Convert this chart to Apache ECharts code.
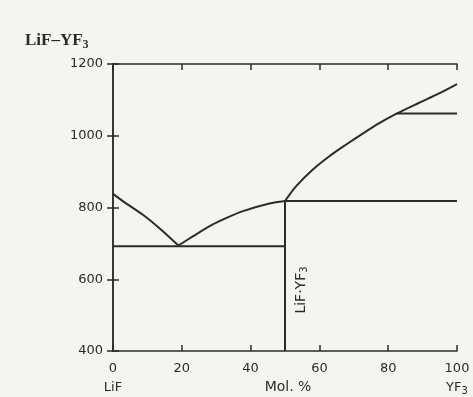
<!DOCTYPE html>
<html><head><meta charset="utf-8">
<script src="https://cdn.jsdelivr.net/npm/echarts@6/dist/echarts.min.js"></script>
<style>html,body{margin:0;padding:0;background:#f4f4f1;}#c{width:473px;height:397px;}</style>
</head><body><div id="c"></div>
<script>
// Data (Mol. % YF3, temperature °C)
const xTicks = [0, 20, 40, 60, 80, 100];
const yTicks = [400, 600, 800, 1000, 1200];
const liquidusLeft = [[0, 838], [4, 810], [8.8, 779], [14, 738], [19, 694]];
const liquidusMid = [[19, 694], [23.3, 720], [28.1, 748], [33, 771], [37.8, 790], [45.5, 811], [50, 818]];
const liquidusRight = [[50, 818], [53.2, 859], [58.1, 906], [62.9, 943], [67.7, 975], [72.6, 1006], [77.4, 1035], [82.7, 1063], [89, 1092], [94.8, 1118], [100, 1144]];
const eutecticLine = [[0, 692], [50, 692]];
const peritecticLine = [[50, 818], [100, 818]];
const transitionLine = [[82.5, 1062], [100, 1062]];
const compoundLine = [[50, 400], [50, 818]];

const ink = '#2b2b2b';
const chart = echarts.init(document.getElementById('c'));
function line(data, smooth) {
  return {type: 'line', data: data, smooth: smooth ? 0.3 : false, symbol: 'none',
    lineStyle: {color: ink, width: 2}, animation: false, xAxisIndex: 0, yAxisIndex: 0};
}
const font = 'DejaVu Sans';
chart.setOption({
  backgroundColor: '#f4f4f1',
  animation: false,
  grid: {left: 113, right: 16, top: 64, bottom: 45},
  title: {text: 'LiF–YF{s|3}', left: 20, top: 26,
    textStyle: {fontFamily: 'Liberation Serif', fontWeight: 'bold', fontSize: 17, color: ink,
      rich: {s: {fontFamily: 'Liberation Serif', fontWeight: 'bold', fontSize: 12, color: ink, padding: [8, 0, 0, 0]}}}},
  xAxis: [{
    type: 'value', min: 0, max: 100, interval: 20,
    axisLine: {lineStyle: {color: ink, width: 1.5}},
    axisTick: {inside: true, length: 6, lineStyle: {color: ink, width: 1.5}},
    splitLine: {show: false},
    axisLabel: {color: ink, fontFamily: font, fontSize: 13, margin: 8, lineHeight: 19,
      formatter: function (v) {
        if (v === 0) return '0\nLiF';
        if (v === 100) return '100\nYF{s|3}';
        return String(v);
      },
      rich: {s: {fontSize: 10, color: ink, fontFamily: font, padding: [8, 0, 0, 0]}}}
  }, {
    type: 'value', position: 'top', min: 0, max: 100, interval: 20,
    axisLine: {lineStyle: {color: ink, width: 1.5}},
    axisTick: {inside: true, length: 6, lineStyle: {color: ink, width: 1.5}},
    axisLabel: {show: false}, splitLine: {show: false}
  }],
  yAxis: [{
    type: 'value', min: 400, max: 1200, interval: 200,
    axisLine: {show: true, lineStyle: {color: ink, width: 1.5}},
    axisTick: {show: true, inside: true, length: 6, lineStyle: {color: ink, width: 1.5}},
    splitLine: {show: false},
    axisLabel: {color: ink, fontFamily: font, fontSize: 13, margin: 10, formatter: function (v) { return String(v); }}
  }, {
    type: 'value', position: 'right', min: 400, max: 1200, interval: 200,
    axisLine: {show: true, lineStyle: {color: ink, width: 1.5}},
    axisTick: {show: true, inside: true, length: 6, lineStyle: {color: ink, width: 1.5}},
    axisLabel: {show: false}, splitLine: {show: false}
  }],
  graphic: [
    {type: 'text', x: 288, y: 387, style: {text: 'Mol. %', fontFamily: font, fontSize: 14, fill: ink, align: 'center', verticalAlign: 'middle'}},
    {type: 'text', x: 301, y: 290, rotation: Math.PI / 2,
      style: {text: 'LiF·YF{s|3}', fontFamily: font, fontSize: 14, fill: ink, align: 'center', verticalAlign: 'middle',
        rich: {s: {fontSize: 10, fill: ink, fontFamily: font, padding: [7, 0, 0, 0]}}}}
  ],
  series: [
    line(liquidusLeft, true), line(liquidusMid, true), line(liquidusRight, true),
    line(eutecticLine), line(peritecticLine), line(transitionLine), line(compoundLine)
  ]
});
</script></body></html>
